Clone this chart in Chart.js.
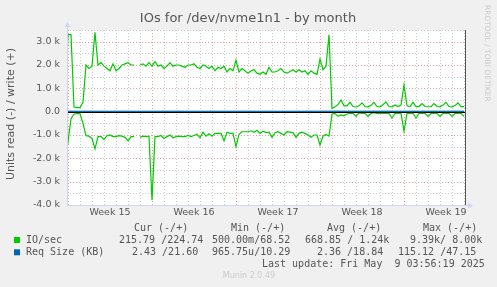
<!DOCTYPE html>
<html lang="en">
<head>
<meta charset="UTF-8">
<title>IOs for /dev/nvme1n1 - by month</title>
<style>
    html, body { margin: 0; padding: 0; background: #f0f0f0; }
    canvas { display: block; }
</style>
</head>
<body>
<canvas id="ioChart" width="497" height="287"></canvas>
<script src="https://cdn.jsdelivr.net/npm/chart.js"></script>
<script>
// IO/sec, one sample every 6 hours, first sample just left of the plot
var writeIO = [200, 3300, 3300, 200, 170, 170, 400, 2000, 1850, 1950, 3400, 2000, 2100, 1950, 1850, 1750, 2050, 1750, 1850, 2000,
    2050, 2100, 2000, 2000, null, 2000, 2050, 1950, 2100, 1950, 2150, 1950, 2000, 1850, 1950, 2100, 1950, 2000, 2000, 1950,
    1900, 2000, 2000, 2050, 1900, 1850, 2000, 1950, 1850, 1950, 1750, 1900, 1850, 1950, 1700, 1850, 1750, 2200, 1700, 1850,
    1750, 1650, 1750, 1800, 1650, 1600, 1700, 1600, 1900, 1700, 1700, 1750, 1850, 1700, 1650, 1720, 1800, 1700, 1800, 1700,
    1750, 1600, 1750, 1650, 1600, 2250, 1800, 1950, 3300, 140, 210, 300, 500, 250, 250, 400, 220, 200, 250, 380,
    220, 210, 270, 400, 220, 210, 300, 420, 220, 210, 290, 220, 280, 1150, 250, 220, 400, 220, 220, 350,
    220, 210, 210, 350, 220, 210, 280, 400, 220, 210, 260, 380, 220, 220];
var readIO = [-50, -1300, -300, -100, -80, -80, -500, -1030, -1050, -1150, -1600, -1070, -1070, -1200, -1030, -1000, -1070, -1070, -1030, -1050,
    -1100, -1250, -1070, -1070, null, -1100, -1050, -1070, -1050, -3800, -1070, -1070, -1020, -1150, -1070, -1000, -1120, -1070, -1050, -1070,
    -1070, -1020, -1070, -1020, -970, -1120, -880, -1050, -950, -1050, -930, -930, -930, -1250, -880, -930, -930, -1500, -970, -860,
    -860, -860, -820, -880, -800, -930, -840, -900, -880, -1100, -900, -860, -930, -1000, -860, -880, -900, -1100, -930, -880,
    -930, -1000, -1100, -1000, -1000, -1430, -1050, -980, -1050, -100, -70, -200, -140, -180, -100, -70, -70, -200, -50, -70,
    -70, -200, -70, -40, -70, -70, -70, -70, -70, -280, -70, -70, -70, -840, -70, -70, -70, -280, -70, -70,
    -70, -200, -70, -70, -70, -200, -70, -70, -70, -200, -70, -70, -70, -200];

// Req size (KB), one sample per day
var reqWrite = [22, 21, 20, 19, 21, 20, 18, 19, 20, 21, 19, 18, 20, 19, 20, 21, 19, 20, 18, 19, 20, 21, 24, 23,
    22, 21, 22, 21, 20, 21, 22, 21, 22, 22];
var reqRead = [-2, -3, -2, -2, -3, -2, -2, -3, -2, -2, -3, -2, -2, -2, -3, -2, -2, -3, -2, -2, -2, -3, -2, -2,
    -3, -2, -2, -3, -2, -2, -3, -2, -2, -2];

var weekLabels = ['Week 15', 'Week 16', 'Week 17', 'Week 18', 'Week 19'];
var weekCenters = [3.5, 10.5, 17.5, 24.5, 31.5];
var yTicks = [-4000, -3000, -2000, -1000, 0, 1000, 2000, 3000];

var legendHead = ['Cur (-/+)', 'Min (-/+)', 'Avg (-/+)', 'Max (-/+)'];
var legendRows = [
    {name: 'IO/sec', color: '#00cc00', vals: ['215.79 /224.74', '500.00m/68.52', '668.85 / 1.24k', '9.39k/ 8.00k']},
    {name: 'Req Size (KB)', color: '#0066b3', vals: ['2.43 /21.60', '965.75u/10.29', '2.36 /18.84', '115.12 /47.15']}
];
var lastUpdate = 'Last update: Fri May  9 03:56:19 2025';

function pts(arr, start, step) {
    return arr.map(function (v, i) { return {x: start + i * step, y: v}; });
}

var textColor = '#555';
Chart.defaults.font.family = 'DejaVu Sans';

var munin = {
    id: 'munin',
    beforeDraw: function (chart) {
        var c = chart.ctx, a = chart.chartArea;
        var xs = chart.scales.x, ys = chart.scales.y;
        c.save();
        c.fillStyle = '#f0f0f0';
        c.fillRect(0, 0, chart.width, chart.height);
        c.fillStyle = '#ffffff';
        c.fillRect(a.left, a.top, a.right - a.left, a.bottom - a.top);
        c.lineWidth = 1;
        c.setLineDash([1, 2]);
        // day grid, red on week boundaries
        for (var d = 0; d <= 33; d++) {
            var px = Math.round(xs.getPixelForValue(d)) + 0.5;
            c.strokeStyle = (d % 7 === 0) ? '#e8a0a0' : '#cccccc';
            c.beginPath(); c.moveTo(px, a.top); c.lineTo(px, a.bottom); c.stroke();
        }
        for (var v = -3500; v <= 3500; v += 500) {
            var py = Math.round(ys.getPixelForValue(v)) + 0.5;
            c.strokeStyle = (v % 1000 === 0) ? '#e8a0a0' : '#cccccc';
            c.beginPath(); c.moveTo(a.left, py); c.lineTo(a.right, py); c.stroke();
        }
        c.restore();
    },
    afterDatasetsDraw: function (chart) {
        var c = chart.ctx, a = chart.chartArea;
        var ys = chart.scales.y;
        c.save();
        // zero rule
        var zy = Math.round(ys.getPixelForValue(0)) + 0.5;
        c.strokeStyle = '#000';
        c.lineWidth = 1;
        c.beginPath(); c.moveTo(a.left, zy); c.lineTo(a.right, zy); c.stroke();
        // axes and arrows
        c.strokeStyle = '#cfd6f8';
        c.fillStyle = '#cfd6f8';
        var lx = Math.round(a.left) + 0.5, by = Math.round(a.bottom) + 0.5;
        c.beginPath(); c.moveTo(lx, by); c.lineTo(lx, a.top - 4); c.stroke();
        c.beginPath(); c.moveTo(lx, by); c.lineTo(a.right + 4, by); c.stroke();
        c.beginPath(); c.moveTo(lx - 3, a.top - 3); c.lineTo(lx + 3, a.top - 3); c.lineTo(lx, a.top - 8); c.fill();
        c.beginPath(); c.moveTo(a.right + 3, by - 3); c.lineTo(a.right + 3, by + 3); c.lineTo(a.right + 8, by); c.fill();
        // right rule
        c.strokeStyle = '#555';
        var rx = Math.round(a.right) + 0.5;
        c.beginPath(); c.moveTo(rx, a.top); c.lineTo(rx, a.bottom); c.stroke();
        c.restore();
    },
    afterDraw: function (chart) {
        var c = chart.ctx;
        c.save();
        c.fillStyle = textColor;
        c.textBaseline = 'middle';
        c.textAlign = 'center';
        c.font = '13px "DejaVu Sans"';
        c.fillText('IOs for /dev/nvme1n1 - by month', 248, 19);

        c.save();
        c.translate(11, 114);
        c.rotate(-Math.PI / 2);
        c.font = '11px "DejaVu Sans"';
        c.fillText('Units read (-) / write (+)', 0, 0);
        c.restore();

        c.save();
        c.translate(487, 5);
        c.rotate(Math.PI / 2);
        c.textAlign = 'left';
        c.fillStyle = '#cccccc';
        c.font = '7.5px "DejaVu Sans"';
        c.fillText('RRDTOOL / TOBI OETIKER', 0, 0);
        c.restore();

        c.font = '10px "DejaVu Sans Mono"';
        c.textAlign = 'left';
        var headX = [134, 231, 327, 423];
        legendHead.forEach(function (t, i) { c.fillText(t, headX[i], 228); });
        var valX = [[119, 212, 305, 410], [132, 212, 317, 398]];
        legendRows.forEach(function (r, j) {
            var y = 240 + j * 12.3;
            c.fillStyle = r.color;
            c.fillRect(14, y - 3, 6, 6);
            c.fillStyle = textColor;
            c.fillText(r.name, 26, y);
            r.vals.forEach(function (t, i) { c.fillText(t, valX[j][i], y); });
        });
        c.fillText(lastUpdate, 262, 264);

        c.textAlign = 'center';
        c.fillStyle = '#cccccc';
        c.font = '8px "DejaVu Sans"';
        c.fillText('Munin 2.0.49', 249, 276);
        c.restore();
    }
};

var ctx = document.getElementById('ioChart').getContext('2d');
var ioChart = new Chart(ctx, {
    type: 'line',
    data: {
        datasets: [
            {label: 'Req Size (KB) write', data: pts(reqWrite, 0, 1), borderColor: '#0066b3', borderWidth: 1},
            {label: 'Req Size (KB) read', data: pts(reqRead, 0, 1), borderColor: '#0066b3', borderWidth: 1},
            {label: 'IO/sec write', data: pts(writeIO, -0.25, 0.25), borderColor: '#00cc00', borderWidth: 1.2},
            {label: 'IO/sec read', data: pts(readIO, -0.25, 0.25), borderColor: '#00cc00', borderWidth: 1.2}
        ]
    },
    options: {
        responsive: false,
        animation: false,
        spanGaps: false,
        layout: {padding: {top: 30, right: 32, left: 0, bottom: 0}},
        elements: {point: {radius: 0}, line: {tension: 0}},
        plugins: {legend: {display: false}, tooltip: {enabled: false}, title: {display: false}},
        scales: {
            x: {
                type: 'linear',
                min: -0.083,
                max: 33.083,
                grid: {display: false, drawTicks: false},
                border: {display: false},
                afterBuildTicks: function (s) { s.ticks = weekCenters.map(function (v) { return {value: v}; }); },
                afterFit: function (s) { s.height = 82; },
                ticks: {
                    autoSkip: false, maxRotation: 0, padding: 2,
                    color: textColor, font: {size: 9.5},
                    callback: function (v, i) { return weekLabels[i]; }
                }
            },
            y: {
                min: -4000,
                max: 3500,
                grid: {display: false, drawTicks: false},
                border: {display: false},
                afterBuildTicks: function (s) { s.ticks = yTicks.map(function (v) { return {value: v}; }); },
                afterFit: function (s) { s.width = 67; },
                ticks: {
                    padding: 7,
                    color: textColor, font: {size: 9.5},
                    callback: function (v) { return v === 0 ? '0.0' : (v / 1000).toFixed(1) + ' k'; }
                }
            }
        }
    },
    plugins: [munin]
});
</script>
</body>
</html>
